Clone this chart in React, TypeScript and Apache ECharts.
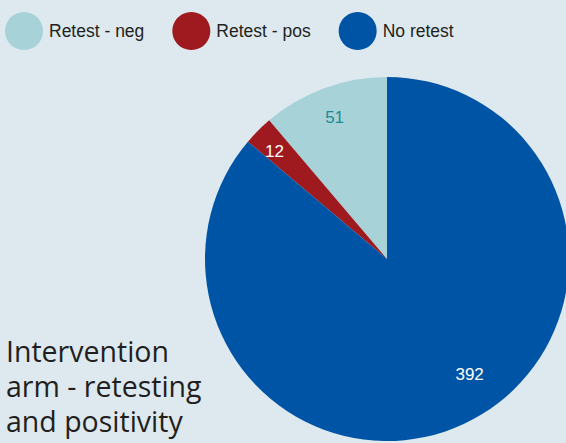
import React, { useEffect, useRef } from "react";
import * as echarts from "echarts";

const categories = ["Retest - neg", "Retest - pos", "No retest"];
const values = [51, 12, 392];
const colors = ["#a7d2d8", "#9e1a1f", "#0054a5"];
const labelColors = ["#1b8b96", "#ffffff", "#ffffff"];
const labelShift = [
  [-20, -53],
  [-46, -41],
  [43, 30],
];
const titleLines = ["Intervention", "arm - retesting", "and positivity"];

export default function App() {
  const ref = useRef<HTMLDivElement>(null);
  useEffect(() => {
    document.body.style.margin = "0";
    const chart = echarts.init(ref.current!, null, { renderer: "svg" });
    chart.setOption({
      animation: false,
      backgroundColor: "#dde9ee",
      legend: {
        left: 0,
        top: 7,
        itemWidth: 38,
        itemHeight: 40,
        itemGap: 28,
        icon: "circle",
        data: categories,
        textStyle: {
          fontFamily: "Liberation Sans, Arial, sans-serif",
          fontSize: 17.5,
          color: "#231f20",
          padding: [0, 0, 0, 1],
        },
      },
      graphic: [
        {
          type: "text",
          left: 6,
          top: 333,
          style: {
            text: titleLines.join("\n"),
            fontFamily: "Open Sans, Noto Sans, sans-serif",
            fontSize: 28.5,
            lineHeight: 35,
            fill: "#231f20",
          },
        },
      ],
      series: [
        {
          type: "pie",
          center: [387, 259],
          radius: [0, 182],
          startAngle: 90,
          clockwise: false,
          legendHoverLink: false,
          label: {
            show: true,
            position: "inside",
            fontFamily: "Liberation Sans, Arial, sans-serif",
            fontSize: 17,
            formatter: "{c}",
          },
          labelLine: { show: false },
          labelLayout: (p: any) => ({
            dx: labelShift[p.dataIndex][0],
            dy: labelShift[p.dataIndex][1],
          }),
          data: categories.map((name, i) => ({
            name,
            value: values[i],
            itemStyle: { color: colors[i] },
            label: { color: labelColors[i] },
          })),
        },
      ],
    });
    return () => chart.dispose();
  }, []);
  return <div ref={ref} style={{ width: 566, height: 443 }} />;
}
